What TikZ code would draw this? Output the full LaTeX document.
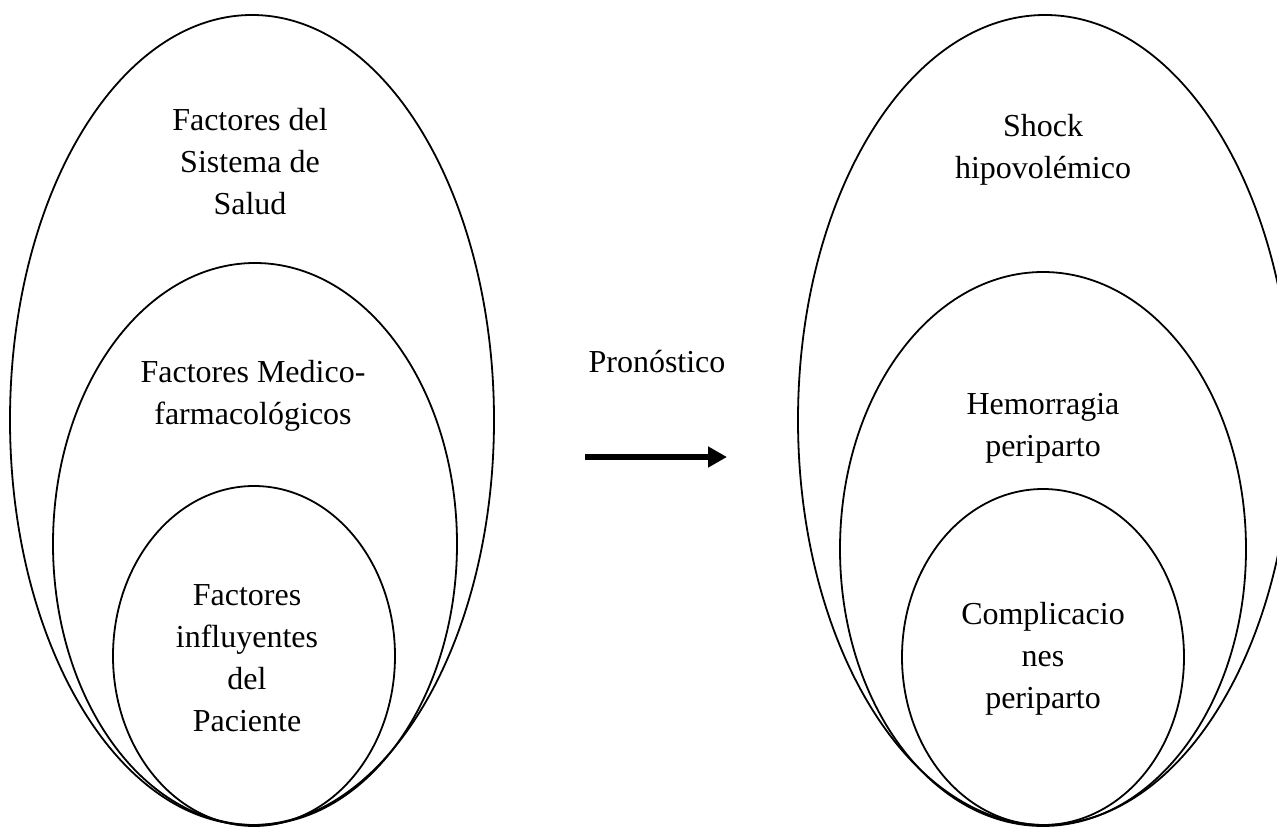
\documentclass[tikz,border=0pt]{standalone}
\usepackage{fontspec}
\setmainfont{Liberation Serif}
\usetikzlibrary{shapes.geometric,arrows.meta}
\tikzset{
  ring/.style={ellipse, draw=black, line width=1.8pt, inner sep=0pt, outer sep=0pt},
  label/.style={align=center, inner sep=0pt, font=\fontsize{32pt}{42pt}\selectfont},
  bigarrow/.style={line width=6pt, -{Triangle[length=19pt,width=20pt]}}
}
\begin{document}
\begin{tikzpicture}[x=1pt,y=-1pt]
\useasboundingbox (0,0) rectangle (1277,829);
\clip (0,0) rectangle (1277,829);
% left group
\node[ring, minimum width=484pt, minimum height=810pt] (Lout) at (252,420) {};
\node[ring, minimum width=404pt, minimum height=562pt] (Lmid) at (255,544) {};
\node[ring, minimum width=282pt, minimum height=340pt] (Lin) at (254,656) {};
\node[label] (Ltxt1) at (250,162) {Factores del\\Sistema de\\Salud};
\node[label] (Ltxt2) at (253,396) {Factores Medico-\\farmacológicos};
\node[label] (Ltxt3) at (247,658) {Factores\\influyentes\\del\\Paciente};
% right group
\node[ring, minimum width=494pt, minimum height=810pt] (Rout) at (1045,420) {};
\node[ring, minimum width=406pt, minimum height=554pt] (Rmid) at (1043,549) {};
\node[ring, minimum width=282pt, minimum height=336pt] (Rin) at (1043,657) {};
\node[label] (Rtxt1) at (1043,150) {Shock\\hipovolémico};
\node[label] (Rtxt2) at (1043,428) {Hemorragia\\periparto};
\node[label] (Rtxt3) at (1043,659) {Complicacio\\nes\\periparto};
% middle
\node[label] (prog) at (657,362) {Pronóstico};
\coordinate (astart) at (585,457);
\coordinate (aend) at (727,457);
\draw[bigarrow] (astart) -- (aend);
\end{tikzpicture}
\end{document}
